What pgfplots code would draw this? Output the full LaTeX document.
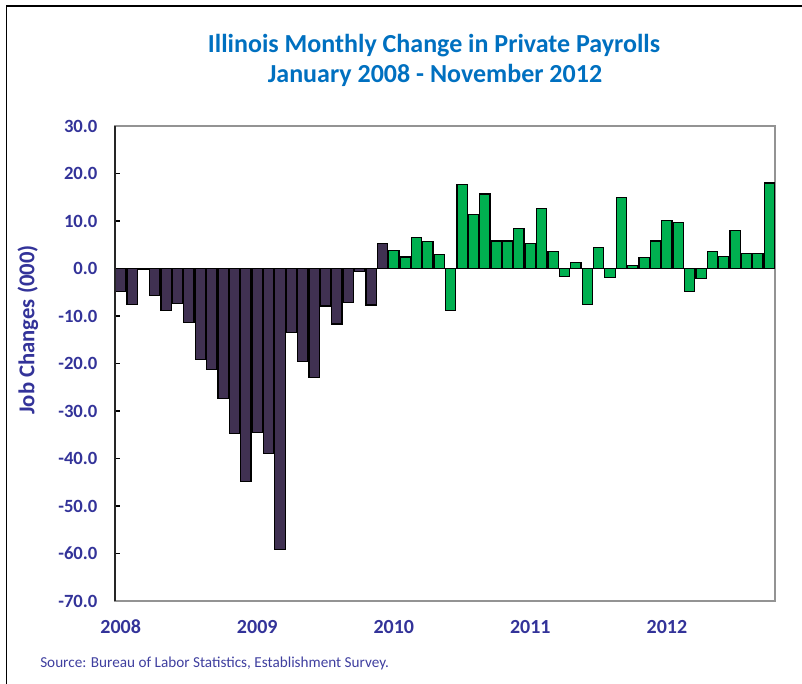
\documentclass[border=0pt]{standalone}
\usepackage{pgfplots}
\pgfplotsset{compat=1.18}
\usepackage{fontspec}
\setmainfont{Carlito}
\definecolor{titleblue}{HTML}{0070C0}
\definecolor{labblue}{HTML}{333399}
\definecolor{srcblue}{HTML}{3F3F9F}
\definecolor{darkbar}{HTML}{403152}
\definecolor{greenbar}{HTML}{00B050}
\begin{document}
\begin{tikzpicture}[x=0.75pt,y=0.75pt]
\path[use as bounding box] (0,0) rectangle (802,684);
\draw[black, line width=1.2pt] (6.5,0) -- (6.5,678) -- (802,678);
\node[titleblue, font=\fontsize{19.5}{22}\selectfont\bfseries] at (434,638) {Illinois Monthly Change in Private Payrolls};
\node[titleblue, font=\fontsize{19.5}{22}\selectfont\bfseries] at (435,609) {January 2008 - November 2012};
\node[labblue, rotate=90, font=\fontsize{17}{19}\selectfont\bfseries] at (28,354) {Job Changes (000)};
\node[srcblue, anchor=west, inner sep=0pt, font=\fontsize{11.4}{13}\selectfont] at (40,21) {Source: Bureau of Labor Statistics, Establishment Survey.};
\begin{axis}[
  at={(86.25pt,62.25pt)}, anchor=south west,
  scale only axis, width=495pt, height=356.25pt,
  xmin=-0.5, xmax=57.5, ymin=-70, ymax=30,
  ybar, bar shift=0pt, bar width=0.9,
  axis line style={draw=gray!85, line width=1pt},
  xtick={0,12,24,36,48}, xticklabels={2008,2009,2010,2011,2012},
  xtick style={draw=none},
  ytick={-70,-60,-50,-40,-30,-20,-10,0,10,20,30},
  yticklabels={-70.0,-60.0,-50.0,-40.0,-30.0,-20.0,-10.0,0.0,10.0,20.0,30.0},
  ytick pos=left, tick align=inside,
  ytick style={black, line width=0.9pt},
  major tick length=3.75pt,
  yticklabel style={anchor=east, inner sep=0pt, xshift=-13pt, font=\fontsize{14}{16}\selectfont\bfseries, text=labblue},
  xticklabel style={anchor=north, inner sep=0pt, yshift=-14pt, font=\fontsize{15}{17}\selectfont\bfseries, text=labblue},
  clip=false,
]
\addplot[fill=darkbar, draw=black, line width=0.9pt] coordinates {
(0,-4.8) (1,-7.6) (2,-0.2) (3,-5.7) (4,-8.9) (5,-7.3) (6,-11.3) (7,-19.1)
(8,-21.3) (9,-27.4) (10,-34.7) (11,-44.8) (12,-34.6) (13,-38.9) (14,-59.2)
(15,-13.5) (16,-19.5) (17,-22.9) (18,-7.9) (19,-11.7) (20,-7.1) (21,-0.6)
(22,-7.7) (23,5.2)
};
\addplot[fill=greenbar, draw=black, line width=0.9pt] coordinates {
(24,3.8) (25,2.4) (26,6.6) (27,5.7) (28,2.9) (29,-8.9) (30,17.7) (31,11.4)
(32,15.7) (33,5.8) (34,5.8) (35,8.4) (36,5.2) (37,12.7) (38,3.5) (39,-1.7)
(40,1.2) (41,-7.5) (42,4.5) (43,-1.9) (44,15.0) (45,0.6) (46,2.3) (47,5.8)
(48,10.1) (49,9.7) (50,-4.8) (51,-2.1) (52,3.6) (53,2.5) (54,8.0) (55,3.1)
(56,3.1) (57,18.0)
};
\draw[black!85, line width=1.2pt] (rel axis cs:0,0) -- (rel axis cs:0,1);
\end{axis}
\end{tikzpicture}
\end{document}
